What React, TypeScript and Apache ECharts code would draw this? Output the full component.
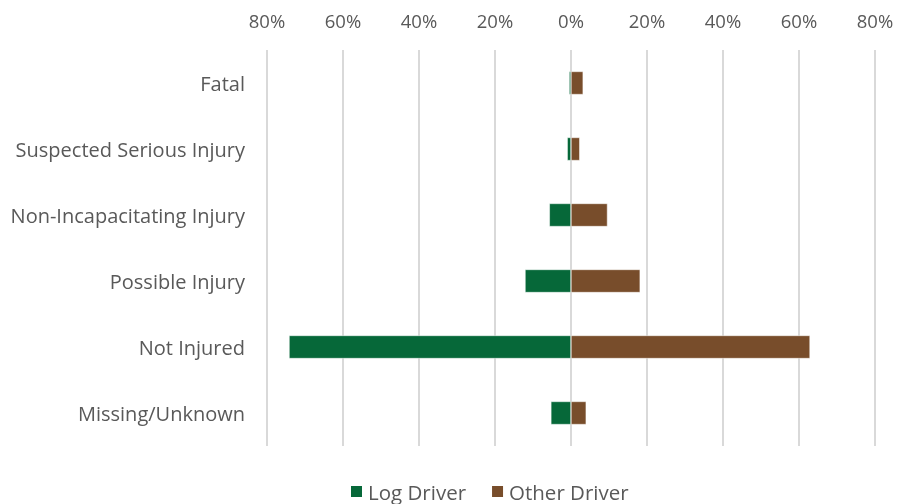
import React, { useEffect, useRef } from "react";
import * as echarts from "echarts";

const categories = [
  "Fatal",
  "Suspected Serious Injury",
  "Non-Incapacitating Injury",
  "Possible Injury",
  "Not Injured",
  "Missing/Unknown",
];
const logDriver = [0.5, 1.0, 5.7, 12.1, 74.2, 5.3];
const otherDriver = [3.2, 2.3, 9.6, 18.2, 62.9, 4.0];
const tickValues = [-80, -60, -40, -20, 0, 20, 40, 60, 80];

const FONT = "'Open Sans', sans-serif";
const GREEN = "#066839";
const BROWN = "#784d2b";

export default function App() {
  const ref = useRef<HTMLDivElement>(null);
  useEffect(() => {
    if (!ref.current) return;
    const chart = echarts.init(ref.current, undefined, { renderer: "svg" });
    chart.setOption({
      animation: false,
      textStyle: { fontFamily: FONT },
      grid: { left: 267, right: 36, top: 50, bottom: 58, containLabel: false },
      legend: {
        top: 476,
        left: 344,
        itemWidth: 13,
        itemHeight: 13,
        itemGap: 24,
        icon: "rect",
        textStyle: { fontSize: 20.5, color: "#595959", fontFamily: FONT, lineHeight: 20 },
        data: ["Log Driver", "Other Driver"],
      },
      xAxis: {
        type: "value",
        position: "top",
        min: tickValues[0],
        max: tickValues[tickValues.length - 1],
        interval: 20,
        axisLine: { show: false },
        axisTick: { show: false },
        axisLabel: {
          margin: 20,
          fontSize: 18.5,
          color: "#595959",
          fontFamily: FONT,
          formatter: (v: number) => Math.abs(v) + "%",
        },
        splitLine: { show: true, lineStyle: { color: "#d9d9d9", width: 2 } },
      },
      yAxis: {
        type: "category",
        data: categories,
        inverse: true,
        axisLine: { show: false },
        axisTick: { show: false },
        axisLabel: { margin: 22, fontSize: 20, color: "#595959", fontFamily: FONT },
      },
      series: [
        {
          name: "Log Driver",
          type: "bar",
          stack: "total",
          barWidth: "35%",
          itemStyle: { color: GREEN, borderColor: "#ffffff", borderWidth: 0.5 },
          data: logDriver.map((v) => -v),
        },
        {
          name: "Other Driver",
          type: "bar",
          stack: "total",
          barWidth: "35%",
          itemStyle: { color: BROWN, borderColor: "#ffffff", borderWidth: 0.5 },
          data: otherDriver,
        },
      ],
    });
    return () => chart.dispose();
  }, []);
  return (
    <div
      ref={ref}
      style={{ position: "fixed", left: 0, top: 0, width: 911, height: 504 }}
    />
  );
}
